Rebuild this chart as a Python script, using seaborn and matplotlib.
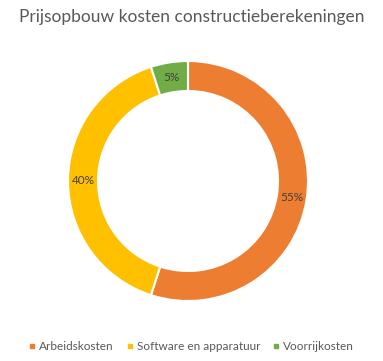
import matplotlib
matplotlib.use('Agg')
import matplotlib.pyplot as plt
import seaborn as sns

categories = ['Arbeidskosten', 'Software en apparatuur', 'Voorrijkosten']
shares = [55, 40, 5]
colors = ['#ED7D31', '#FFC000', '#70AD47']

sns.set_theme(style='white')
plt.rcParams['font.family'] = ['Lato', 'DejaVu Sans']

W, H = 383, 361
fig = plt.figure(figsize=(W / 100, H / 100), dpi=100)

# donut placed in pixel coords: center (188, 181), radius 120
cx, cy, r = 188, 181, 120
ax = fig.add_axes([(cx - r) / W, (H - cy - r) / H, 2 * r / W, 2 * r / H])

wedges, texts, autotexts = ax.pie(
    shares, colors=colors, startangle=90, counterclock=False,
    autopct='%1.0f%%', pctdistance=0.875,
    wedgeprops=dict(width=0.25, edgecolor='white', linewidth=1.5),
    textprops=dict(fontsize=8.5, color='#404040'),
)
ax.set_xlim(-1, 1)
ax.set_ylim(-1, 1)
ax.set_aspect('equal')
ax.axis('off')

fig.text(0.5, 1 - 17 / H, 'Prijsopbouw kosten constructieberekeningen',
         ha='center', va='center', fontsize=12.5, color='#595959')

handles = [plt.Line2D([], [], marker='s', linestyle='', markersize=3.5,
                      color=c) for c in colors]
fig.legend(handles, categories, loc='center', bbox_to_anchor=(0.5, 1 - 347 / H),
           ncol=3, frameon=False, fontsize=8.5, handlelength=0.5,
           handletextpad=0.35, columnspacing=1.1, labelcolor='#595959')

fig.savefig('out.png', dpi=100, facecolor='white')
